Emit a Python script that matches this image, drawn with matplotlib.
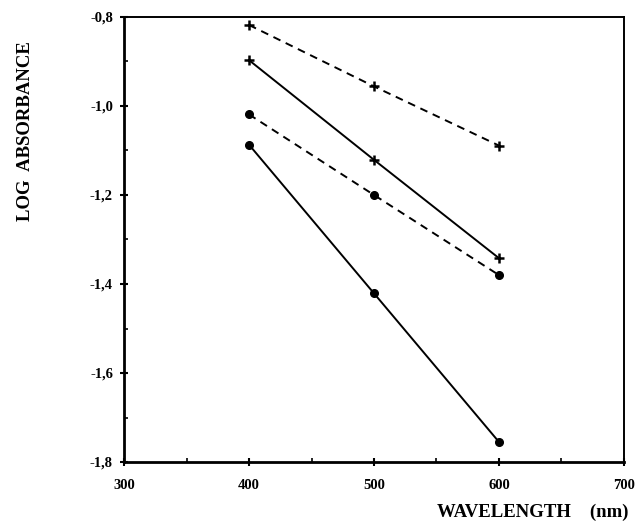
import numpy as np
import matplotlib.pyplot as plt
from matplotlib.ticker import FuncFormatter, MultipleLocator

plt.rcParams['font.family'] = ['Liberation Serif', 'DejaVu Serif']
plt.rcParams['font.weight'] = 'bold'

wavelength = [400, 500, 600]
plus_dashed = [-0.818, -0.956, -1.089]
plus_solid = [-0.897, -1.121, -1.342]
dot_dashed = [-1.019, -1.200, -1.380]
dot_solid = [-1.087, -1.421, -1.755]

fig = plt.figure(figsize=(6.38, 5.24), dpi=100)
ax = fig.add_axes([0.1944, 0.1183, 0.7836, 0.8493])

dash = (0, (4, 3))
ax.plot(wavelength, plus_dashed, color='black', lw=1.4, linestyle=dash,
        marker='+', ms=7, mew=1.8)
ax.plot(wavelength, plus_solid, color='black', lw=1.4, linestyle='-',
        marker='+', ms=7, mew=1.8)
ax.plot(wavelength, dot_dashed, color='black', lw=1.4, linestyle=dash,
        marker='o', ms=5.5)
ax.plot(wavelength, dot_solid, color='black', lw=1.4, linestyle='-',
        marker='o', ms=5.5)

ax.set_xlim(300, 700)
ax.set_ylim(-1.8, -0.8)
ax.xaxis.set_major_locator(MultipleLocator(100))
ax.xaxis.set_minor_locator(MultipleLocator(50))
ax.yaxis.set_major_locator(MultipleLocator(0.2))
ax.yaxis.set_minor_locator(MultipleLocator(0.1))
ax.yaxis.set_major_formatter(FuncFormatter(lambda v, p: f"{v:.1f}".replace('.', ',')))

ax.tick_params(which='major', direction='inout', length=6, width=1.5,
               labelsize=10.5, pad=5)
ax.tick_params(which='minor', direction='in', length=3, width=1.2)
ax.tick_params(axis='x', which='major', pad=9)

for side in ['left', 'bottom']:
    ax.spines[side].set_linewidth(2.0)
for side in ['top', 'right']:
    ax.spines[side].set_linewidth(1.4)

fig.text(0.040, 0.75, 'LOG  ABSORBANCE', rotation=90, ha='center', va='center',
         fontsize=13.5, fontweight='bold')
fig.text(0.985, 0.023, 'WAVELENGTH    (nm)', ha='right', va='center',
         fontsize=13.5, fontweight='bold')

fig.savefig('out.png', dpi=100)
